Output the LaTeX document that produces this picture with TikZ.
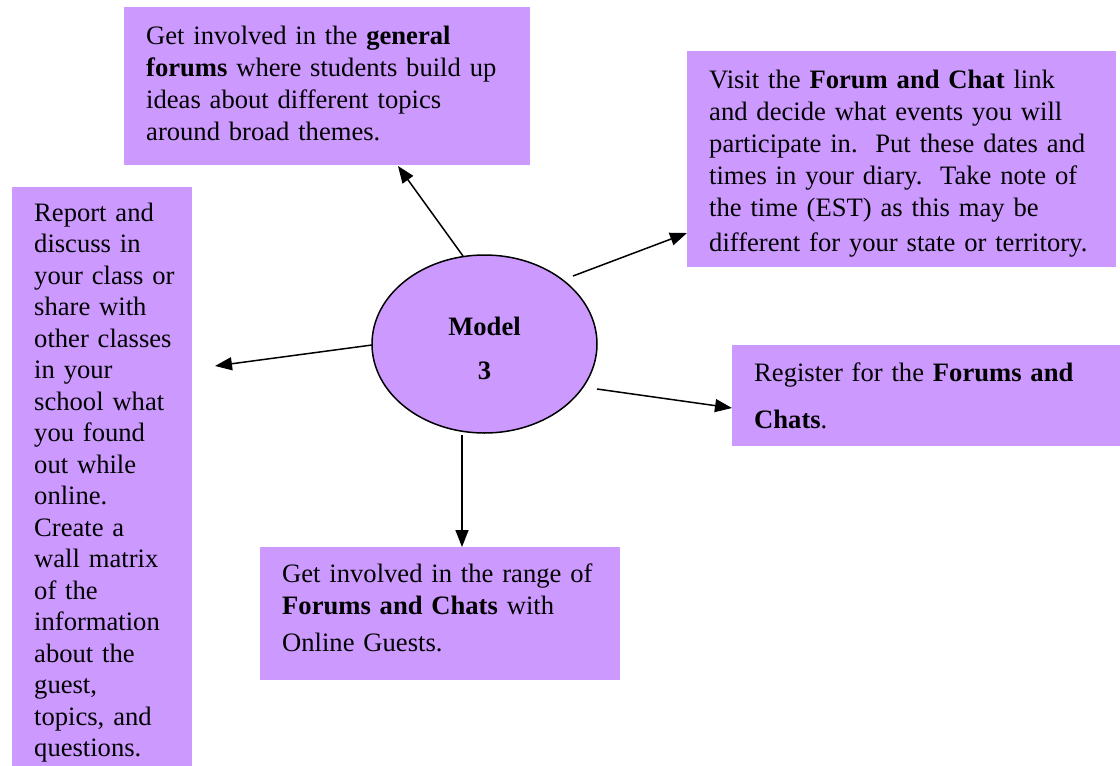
\documentclass[tikz,border=0pt]{standalone}
\usepackage{fontspec}
\setmainfont{Liberation Serif}
\usetikzlibrary{shapes.geometric,arrows.meta}
\definecolor{lav}{HTML}{CC99FF}
\begin{document}
\begin{tikzpicture}[x=1pt,y=-1pt,
  box/.style={fill=lav, draw=none, rectangle, anchor=north west, inner xsep=22pt, inner ysep=0pt, align=left, font=\fontsize{26.6}{32}\selectfont},
  arr/.style={line width=1.5pt, -{Triangle[length=17pt,width=13pt]}}]
\useasboundingbox (0,0) rectangle (1120,766);
\node[box, text width=362pt, minimum height=158pt] (gen) at (124,7)
  {Get involved in the \textbf{general}\\ \textbf{forums} where students build up\\ ideas about different topics\\ around broad themes.\\[-26pt]\mbox{}};
\node[box, text width=385pt, minimum height=216pt] (visit) at (687,51)
  {\mbox{}\\[-5pt]Visit the \textbf{Forum and Chat} link\\ and decide what events you will\\ participate in.\ \ Put these dates and\\ times in your diary.\ \ Take note of\\ the time (EST) as this may be\\[3pt] different for your state or territory.};
\node[box, font=\fontsize{26.6}{31.5}\selectfont, text width=136pt, minimum height=591pt] (report) at (12,187)
  {Report~and\\ discuss~in\\ your~class~or\\ share~with\\ other~classes\\ in~your\\ school~what\\ you~found\\ out~while\\ online.\\ Create~a\\ wall~matrix\\ of~the\\ information\\ about~the\\ guest,\\ topics,~and\\ questions.};
\node[box, text width=316pt, minimum height=133pt] (range) at (260,547)
  {Get involved in the range of\\ \textbf{Forums and Chats} with\\[5pt] Online Guests.\\[-20pt]\mbox{}};
\node[box, text width=344pt, minimum height=101pt] (reg) at (732,345)
  {Register for the \textbf{Forums and}\\[15pt] \textbf{Chats}.};
\node[ellipse, fill=lav, draw, line width=1.5pt, minimum width=225pt, minimum height=178pt, inner sep=0pt, align=center, font=\bfseries\fontsize{26.6}{32}\selectfont] (model) at (484.5,344) {\mbox{}\\[-4pt]Model\\[12pt]3};
\coordinate (s1) at (463,256); \coordinate (e1) at (398,166);
\coordinate (s2) at (573,276); \coordinate (e2) at (687,233);
\coordinate (s3) at (372,345); \coordinate (e3) at (215,366);
\coordinate (s4) at (597,389); \coordinate (e4) at (732,408);
\coordinate (s5) at (462,435); \coordinate (e5) at (462,547);
\draw[arr] (s1) -- (e1);
\draw[arr] (s2) -- (e2);
\draw[arr] (s3) -- (e3);
\draw[arr] (s4) -- (e4);
\draw[arr] (s5) -- (e5);
\end{tikzpicture}
\end{document}
